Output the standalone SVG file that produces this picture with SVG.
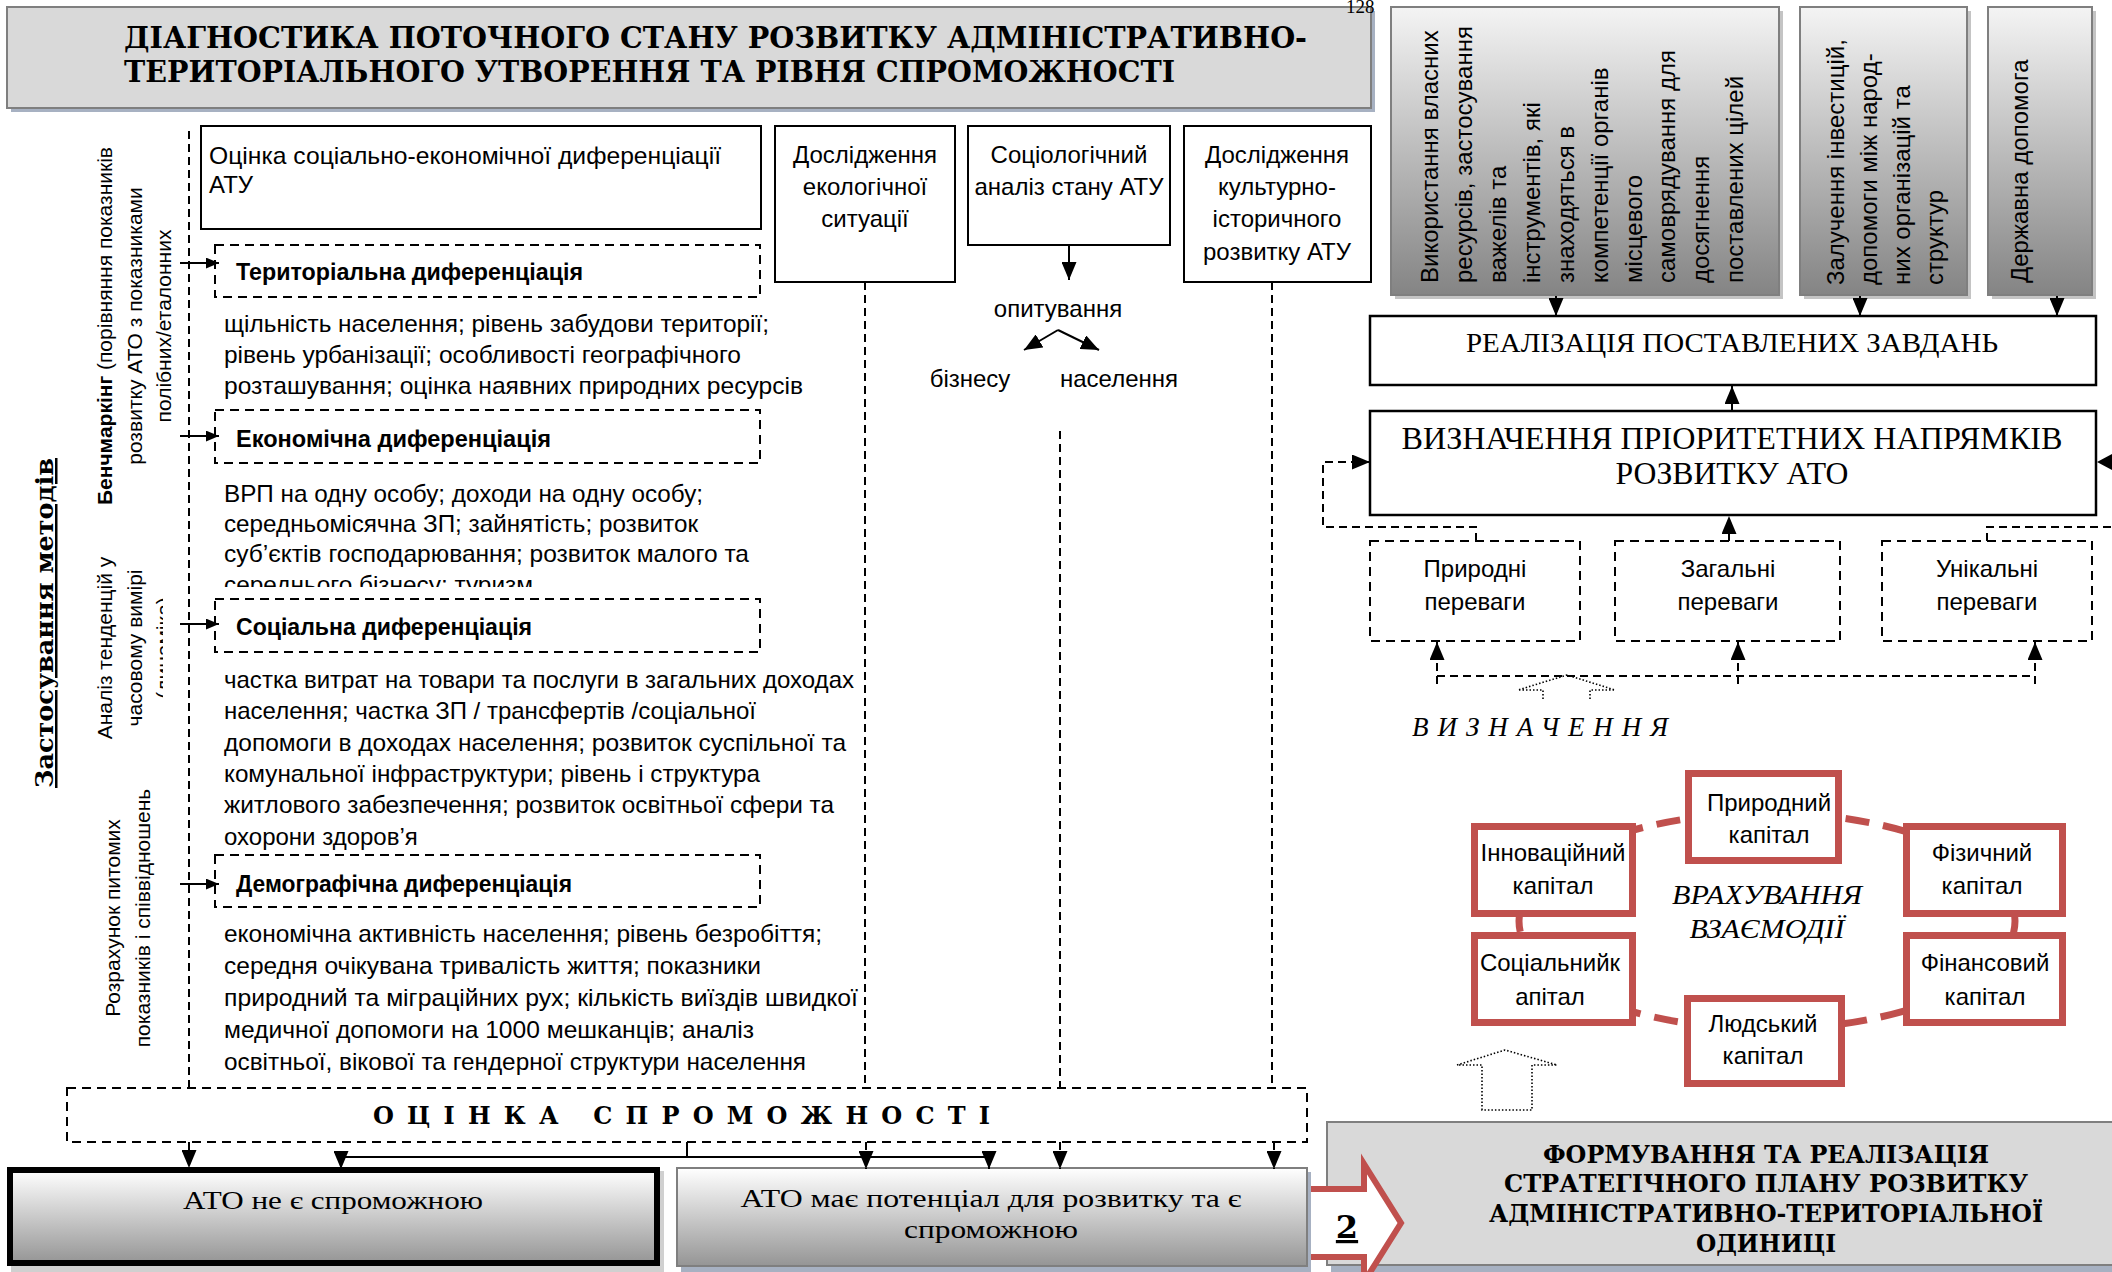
<svg xmlns="http://www.w3.org/2000/svg" width="2112" height="1272" viewBox="0 0 2112 1272">
<style>
.sans{font-family:"Liberation Sans",Arial,"DejaVu Sans",sans-serif}
.serif{font-family:"Liberation Serif","Times New Roman",serif}
.heavy{font-family:"DejaVu Serif","Liberation Serif",serif;font-weight:bold}
.dash{fill:none;stroke:#000;stroke-width:2;stroke-dasharray:8 5}
.solid{fill:none;stroke:#000;stroke-width:2}
.box{fill:#fff;stroke:#000;stroke-width:2}
.dbox{fill:none;stroke:#000;stroke-width:2;stroke-dasharray:9 6}
.cap{fill:#fff;stroke:#c0504d;stroke-width:7}
.dot{fill:none;stroke:#000;stroke-width:1.6;stroke-dasharray:1.5 2}
.t24{font-size:24px}
.t21{font-size:21px}
.b{font-weight:bold}
.mid{text-anchor:middle}
</style>
<defs>
<marker id="ah" viewBox="0 0 12 10" refX="12" refY="5" markerWidth="13" markerHeight="11" markerUnits="userSpaceOnUse" orient="auto"><path d="M0,0L12,5L0,10z" fill="#000"/></marker>
<marker id="ahB" viewBox="0 0 12 10" refX="12" refY="5" markerWidth="18" markerHeight="15" markerUnits="userSpaceOnUse" orient="auto"><path d="M0,0L12,5L0,10z" fill="#000"/></marker>
<linearGradient id="gTop" x1="0" y1="0" x2="0" y2="1"><stop offset="0" stop-color="#f4f4f4"/><stop offset="1" stop-color="#848484"/></linearGradient>
<linearGradient id="gBtm" x1="0" y1="0" x2="0" y2="1"><stop offset="0" stop-color="#ffffff"/><stop offset="1" stop-color="#959595"/></linearGradient>
<clipPath id="clipEk"><rect x="200" y="560" width="600" height="27"/></clipPath>
<clipPath id="clipDyn"><rect x="150" y="500" width="13" height="300"/></clipPath>
</defs>

<g id="title">
<rect x="11" y="11" width="1364" height="101" fill="#a7b1c2"/>
<rect x="7" y="7" width="1364" height="101" fill="#d9d9d9" stroke="#7f7f7f" stroke-width="2"/>
<text class="heavy" font-size="30" x="124" y="48" textLength="1183" lengthAdjust="spacingAndGlyphs">ДІАГНОСТИКА ПОТОЧНОГО СТАНУ РОЗВИТКУ АДМІНІСТРАТИВНО-</text>
<text class="heavy" font-size="30" x="124" y="82" textLength="1051" lengthAdjust="spacingAndGlyphs">ТЕРИТОРІАЛЬНОГО УТВОРЕННЯ ТА РІВНЯ СПРОМОЖНОСТІ</text>
</g>
<text class="serif" font-size="19" x="1346" y="13">128</text>

<g id="methods-label">
<text class="heavy mid" font-size="25" text-decoration="underline" transform="translate(53,623) rotate(-90)" textLength="330" lengthAdjust="spacingAndGlyphs">Застосування методів</text>
</g>
<g id="method-benchmark" class="sans t21">
<text class="mid" transform="translate(112,326) rotate(-90)"><tspan class="b">Бенчмаркінг</tspan> (порівняння показників</text>
<text class="mid" transform="translate(142,326) rotate(-90)">розвитку АТО з показниками</text>
<text class="mid" transform="translate(171,326) rotate(-90)">полібних/еталонних</text>
</g>
<g id="method-dynamics" class="sans t21">
<text class="mid" transform="translate(112,648) rotate(-90)">Аналіз тенденцій у</text>
<text class="mid" transform="translate(142,648) rotate(-90)">часовому вимірі</text>
<g clip-path="url(#clipDyn)"><text class="mid" transform="translate(171,648) rotate(-90)">(динаміка)</text></g>
</g>
<g id="method-ratios" class="sans t21">
<text class="mid" transform="translate(120,918) rotate(-90)">Розрахунок питомих</text>
<text class="mid" transform="translate(150,918) rotate(-90)">показників і співвідношень</text>
</g>

<g id="socio-econ" class="sans t24">
<rect class="box" x="201" y="126" width="560" height="103"/>
<text x="209" y="164" textLength="512" lengthAdjust="spacingAndGlyphs">Оцінка соціально-економічної диференціації</text>
<text x="209" y="193">АТУ</text>
</g>

<g id="territorial" class="sans t24">
<rect class="dbox" x="215" y="245" width="545" height="52"/>
<text class="b" x="236" y="280" textLength="347" lengthAdjust="spacingAndGlyphs">Територіальна диференціація</text>
<text x="224" y="332" textLength="545" lengthAdjust="spacingAndGlyphs">щільність населення; рівень забудови території;</text>
<text x="224" y="363" textLength="517" lengthAdjust="spacingAndGlyphs">рівень урбанізації; особливості географічного</text>
<text x="224" y="394" textLength="579" lengthAdjust="spacingAndGlyphs">розташування; оцінка наявних природних ресурсів</text>
</g>

<g id="economic" class="sans t24">
<rect class="dbox" x="215" y="410" width="545" height="53"/>
<text class="b" x="236" y="447" textLength="315" lengthAdjust="spacingAndGlyphs">Економічна диференціація</text>
<text x="224" y="502" textLength="479" lengthAdjust="spacingAndGlyphs">ВРП на одну особу; доходи на одну особу;</text>
<text x="224" y="532" textLength="474" lengthAdjust="spacingAndGlyphs">середньомісячна ЗП; зайнятість; розвиток</text>
<text x="224" y="562" textLength="525" lengthAdjust="spacingAndGlyphs">суб’єктів господарювання; розвиток малого та</text>
<g clip-path="url(#clipEk)"><text x="224" y="593" textLength="309" lengthAdjust="spacingAndGlyphs">середнього бізнесу; туризм</text></g>
</g>

<g id="social" class="sans t24">
<rect class="dbox" x="215" y="599" width="545" height="53"/>
<text class="b" x="236" y="635" textLength="296" lengthAdjust="spacingAndGlyphs">Соціальна диференціація</text>
<text x="224" y="688" textLength="630" lengthAdjust="spacingAndGlyphs">частка витрат на товари та послуги в загальних доходах</text>
<text x="224" y="719" textLength="532" lengthAdjust="spacingAndGlyphs">населення; частка ЗП / трансфертів /соціальної</text>
<text x="224" y="751" textLength="622" lengthAdjust="spacingAndGlyphs">допомоги в доходах населення; розвиток суспільної та</text>
<text x="224" y="782" textLength="536" lengthAdjust="spacingAndGlyphs">комунальної інфраструктури; рівень і структура</text>
<text x="224" y="813" textLength="610" lengthAdjust="spacingAndGlyphs">житлового забезпечення; розвиток освітньої сфери та</text>
<text x="224" y="845">охорони здоров’я</text>
</g>

<g id="demographic" class="sans t24">
<rect class="dbox" x="215" y="855" width="545" height="52"/>
<text class="b" x="236" y="892" textLength="336" lengthAdjust="spacingAndGlyphs">Демографічна диференціація</text>
<text x="224" y="942" textLength="598" lengthAdjust="spacingAndGlyphs">економічна активність населення; рівень безробіття;</text>
<text x="224" y="974" textLength="537" lengthAdjust="spacingAndGlyphs">середня очікувана тривалість життя; показники</text>
<text x="224" y="1006" textLength="634" lengthAdjust="spacingAndGlyphs">природний та міграційних рух; кількість виїздів швидкої</text>
<text x="224" y="1038" textLength="530" lengthAdjust="spacingAndGlyphs">медичної допомоги на 1000 мешканців; аналіз</text>
<text x="224" y="1070" textLength="582" lengthAdjust="spacingAndGlyphs">освітньої, вікової та гендерної структури населення</text>
</g>

<g id="ecology" class="sans t24 mid">
<rect class="box" x="775" y="126" width="180" height="156"/>
<text x="865" y="163">Дослідження</text>
<text x="865" y="195">екологічної</text>
<text x="865" y="227">ситуації</text>
</g>

<g id="sociology" class="sans t24 mid">
<rect class="box" x="968" y="126" width="202" height="119"/>
<text x="1069" y="163">Соціологічний</text>
<text x="1069" y="195">аналіз стану АТУ</text>
</g>
<g id="survey" class="sans t24 mid">
<text x="1058" y="317">опитування</text>
<text x="970" y="387">бізнесу</text>
<text x="1119" y="387">населення</text>
</g>

<g id="culture" class="sans t24 mid">
<rect class="box" x="1184" y="126" width="187" height="156"/>
<text x="1277" y="163">Дослідження</text>
<text x="1277" y="195">культурно-</text>
<text x="1277" y="227">історичного</text>
<text x="1277" y="260">розвитку АТУ</text>
</g>

<g id="own-resources" class="sans t24">
<rect x="1395" y="11" width="388" height="288" fill="#c4c4c4"/>
<rect x="1391" y="7" width="388" height="288" fill="url(#gTop)" stroke="#7f7f7f" stroke-width="2"/>
<text transform="translate(1438,283) rotate(-90)">Використання власних</text>
<text transform="translate(1472,283) rotate(-90)">ресурсів, застосування</text>
<text transform="translate(1506,283) rotate(-90)">важелів та</text>
<text transform="translate(1540,283) rotate(-90)">інструментів, які</text>
<text transform="translate(1574,283) rotate(-90)">знаходяться в</text>
<text transform="translate(1608,283) rotate(-90)">компетенції органів</text>
<text transform="translate(1642,283) rotate(-90)">місцевого</text>
<text transform="translate(1675,283) rotate(-90)">самоврядування для</text>
<text transform="translate(1709,283) rotate(-90)">досягнення</text>
<text transform="translate(1743,283) rotate(-90)">поставлених цілей</text>
</g>
<g id="investments" class="sans t24">
<rect x="1804" y="11" width="167" height="288" fill="#c4c4c4"/>
<rect x="1800" y="7" width="167" height="288" fill="url(#gTop)" stroke="#7f7f7f" stroke-width="2"/>
<text transform="translate(1844,285) rotate(-90)">Залучення інвестицій,</text>
<text transform="translate(1877,285) rotate(-90)">допомоги між народ-</text>
<text transform="translate(1910,285) rotate(-90)">них організацій та</text>
<text transform="translate(1943,285) rotate(-90)">структур</text>
</g>
<g id="state-aid" class="sans t24">
<rect x="1992" y="11" width="104" height="288" fill="#c4c4c4"/>
<rect x="1988" y="7" width="104" height="288" fill="url(#gTop)" stroke="#7f7f7f" stroke-width="2"/>
<text transform="translate(2028,283) rotate(-90)">Державна допомога</text>
</g>

<g id="implementation">
<rect x="1370" y="316" width="726" height="69" fill="#fff" stroke="#000" stroke-width="2.5"/>
<text class="serif mid" font-size="28" x="1732" y="352" textLength="532" lengthAdjust="spacingAndGlyphs">РЕАЛІЗАЦІЯ ПОСТАВЛЕНИХ ЗАВДАНЬ</text>
</g>
<g id="priorities">
<rect x="1370" y="411" width="726" height="104" fill="#fff" stroke="#000" stroke-width="2.5"/>
<text class="serif mid" font-size="32" x="1732" y="449" textLength="661" lengthAdjust="spacingAndGlyphs">ВИЗНАЧЕННЯ ПРІОРИТЕТНИХ НАПРЯМКІВ</text>
<text class="serif mid" font-size="32" x="1732" y="484" textLength="233" lengthAdjust="spacingAndGlyphs">РОЗВИТКУ АТО</text>
</g>

<g id="adv-natural" class="sans t24 mid">
<rect class="dbox" x="1370" y="541" width="210" height="100"/>
<text x="1475" y="577">Природні</text>
<text x="1475" y="610">переваги</text>
</g>
<g id="adv-general" class="sans t24 mid">
<rect class="dbox" x="1615" y="541" width="225" height="100"/>
<text x="1728" y="577">Загальні</text>
<text x="1728" y="610">переваги</text>
</g>
<g id="adv-unique" class="sans t24 mid">
<rect class="dbox" x="1882" y="541" width="210" height="100"/>
<text x="1987" y="577">Унікальні</text>
<text x="1987" y="610">переваги</text>
</g>

<g id="determination">
<text class="serif" font-style="italic" font-size="27" x="1412" y="736" textLength="256" lengthAdjust="spacing">ВИЗНАЧЕННЯ</text>
</g>

<g id="capitals">
<ellipse cx="1767" cy="921" rx="248" ry="108" fill="none" stroke="#c0504d" stroke-width="7" stroke-dasharray="24 14"/>
<g id="cap-natural" class="sans t24 mid"><rect class="cap" x="1688.5" y="773.5" width="150" height="87"/><text x="1769" y="811">Природний</text><text x="1769" y="843">капітал</text></g>
<g id="cap-innov" class="sans t24 mid"><rect class="cap" x="1474.5" y="826.5" width="158" height="87"/><text x="1553" y="861">Інноваційний</text><text x="1553" y="894">капітал</text></g>
<g id="cap-physical" class="sans t24 mid"><rect class="cap" x="1906.5" y="826.5" width="156" height="87"/><text x="1982" y="861">Фізичний</text><text x="1982" y="894">капітал</text></g>
<g id="cap-social" class="sans t24 mid"><rect class="cap" x="1474.5" y="935.5" width="158" height="87"/><text x="1550" y="971">Соціальнийк</text><text x="1550" y="1005">апітал</text></g>
<g id="cap-financial" class="sans t24 mid"><rect class="cap" x="1906.5" y="935.5" width="156" height="87"/><text x="1985" y="971">Фінансовий</text><text x="1985" y="1005">капітал</text></g>
<g id="cap-human" class="sans t24 mid"><rect class="cap" x="1687.5" y="998.5" width="154" height="85"/><text x="1763" y="1032">Людський</text><text x="1763" y="1064">капітал</text></g>
<text class="serif mid" font-style="italic" font-size="27" x="1767" y="904" textLength="190" lengthAdjust="spacingAndGlyphs">ВРАХУВАННЯ</text>
<text class="serif mid" font-style="italic" font-size="27" x="1767" y="938" textLength="155" lengthAdjust="spacingAndGlyphs">ВЗАЄМОДІЇ</text>
</g>

<g id="hollow-arrows">
<polyline class="dot" points="1543,699 1543,690 1518,690 1567,675 1615,690 1590,690 1590,699"/>
<polygon class="dot" points="1482,1110 1482,1065 1457,1065 1505,1050 1557,1065 1532,1065 1532,1110"/>
</g>

<g id="capacity">
<rect class="dbox" x="67" y="1088" width="1240" height="54"/>
<text class="heavy" font-size="24" x="373" y="1124" textLength="617" lengthAdjust="spacing">ОЦІНКА СПРОМОЖНОСТІ</text>
</g>

<g id="strategy">
<rect x="1331" y="1126" width="790" height="146" fill="#a7b1c2"/>
<rect x="1327" y="1122" width="790" height="143" fill="#d9d9d9" stroke="#7f7f7f" stroke-width="2"/>
<text class="heavy mid" font-size="24" x="1766" y="1163" textLength="446" lengthAdjust="spacingAndGlyphs">ФОРМУВАННЯ ТА РЕАЛІЗАЦІЯ</text>
<text class="heavy mid" font-size="24" x="1766" y="1192" textLength="524" lengthAdjust="spacingAndGlyphs">СТРАТЕГІЧНОГО ПЛАНУ РОЗВИТКУ</text>
<text class="heavy mid" font-size="24" x="1766" y="1222" textLength="554" lengthAdjust="spacingAndGlyphs">АДМІНІСТРАТИВНО-ТЕРИТОРІАЛЬНОЇ</text>
<text class="heavy mid" font-size="24" x="1766" y="1252" textLength="140" lengthAdjust="spacingAndGlyphs">ОДИНИЦІ</text>
</g>

<g id="arrow-2">
<polygon points="1290,1189 1364,1189 1364,1164 1401,1223 1364,1282 1364,1257 1290,1257" fill="#fff" stroke="#c0504d" stroke-width="6"/>
</g>

<g id="not-capable">
<rect x="11" y="1171" width="653" height="101" fill="#d0d0d0"/>
<rect x="10" y="1170" width="647" height="93" fill="url(#gBtm)" stroke="#000" stroke-width="6"/>
<text class="serif mid" font-size="26" x="333" y="1209" textLength="300" lengthAdjust="spacingAndGlyphs">АТО не є спроможною</text>
</g>
<g id="capable">
<rect x="681" y="1172" width="630" height="100" fill="#a7b1c2"/>
<rect x="677" y="1168" width="630" height="98" fill="url(#gBtm)" stroke="#7f7f7f" stroke-width="2"/>
<text class="serif mid" font-size="26" x="991" y="1207" textLength="501" lengthAdjust="spacingAndGlyphs">АТО має потенціал для розвитку та є</text>
<text class="serif mid" font-size="26" x="991" y="1238" textLength="174" lengthAdjust="spacingAndGlyphs">спроможною</text>
</g>
<text class="heavy mid" font-size="32" x="1347" y="1238" text-decoration="underline">2</text>

<g id="connectors">
<path class="dash" d="M189,131V1088"/>
<path class="solid" d="M180,263H219" marker-end="url(#ah)"/>
<path class="solid" d="M180,436H219" marker-end="url(#ah)"/>
<path class="solid" d="M180,624H219" marker-end="url(#ah)"/>
<path class="solid" d="M180,884H219" marker-end="url(#ah)"/>
<path class="dash" d="M865,282V1088"/>
<path class="dash" d="M1060,431V1088"/>
<path class="dash" d="M1272,282V1088"/>
<path class="solid" d="M1069,245V280" marker-end="url(#ahB)"/>
<path class="solid" d="M1058,330L1024,350" marker-end="url(#ahB)"/>
<path class="solid" d="M1058,330L1099,350" marker-end="url(#ahB)"/>
<path class="dash" d="M189,1142V1168" marker-end="url(#ahB)"/>
<path class="solid" d="M687,1142V1157"/>
<path class="solid" stroke-width="2.5" d="M687,1157H341V1169" marker-end="url(#ahB)"/>
<path class="solid" stroke-width="2.5" d="M687,1157H989V1169" marker-end="url(#ahB)"/>
<path class="dash" d="M866,1142V1169" marker-end="url(#ahB)"/>
<path class="dash" d="M1060,1142V1169" marker-end="url(#ahB)"/>
<path class="dash" d="M1274,1142V1169" marker-end="url(#ahB)"/>
<path class="dash" d="M1556,296V316" marker-end="url(#ahB)"/>
<path class="dash" d="M1860,296V316" marker-end="url(#ahB)"/>
<path class="dash" d="M2057,296V316" marker-end="url(#ahB)"/>
<path class="solid" d="M1732,411V386" marker-end="url(#ahB)"/>
<path class="dash" d="M1729,541V516" marker-end="url(#ahB)"/>
<path class="dash" d="M1476,541V527H1323V462H1370" marker-end="url(#ahB)"/>
<path class="dash" d="M1987,541V527H2112"/>
<polygon points="2097,462 2112,454 2112,470" fill="#000"/>
<path class="dash" d="M1437,676H2035"/>
<path class="dash" d="M1437,684V642" marker-end="url(#ahB)"/>
<path class="dash" d="M1738,684V642" marker-end="url(#ahB)"/>
<path class="dash" d="M2035,684V642" marker-end="url(#ahB)"/>
</g>
</svg>
